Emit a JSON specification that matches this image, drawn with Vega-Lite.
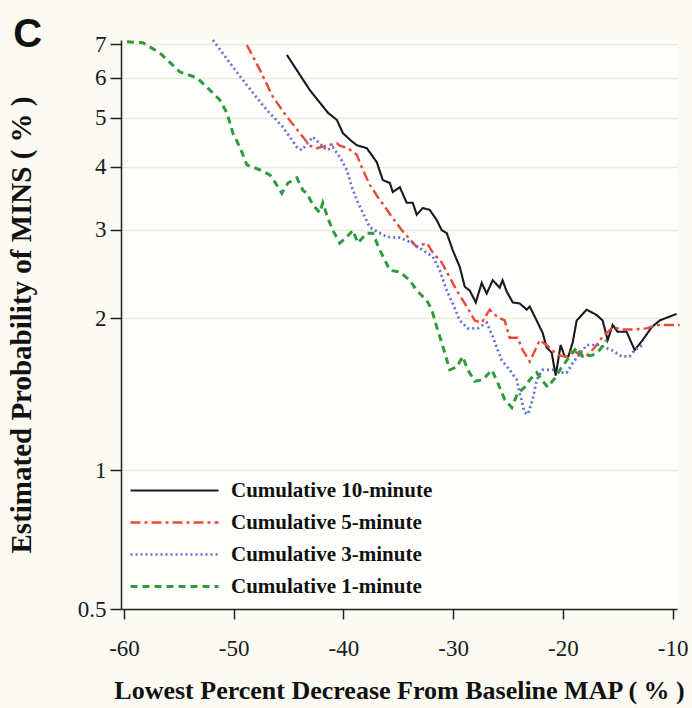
{
  "$schema": "https://vega.github.io/schema/vega-lite/v6.json",
  "width": 556,
  "height": 569,
  "autosize": {"type": "none"},
  "padding": {"left": 121, "top": 40, "right": 15, "bottom": 99},
  "background": "#fbfaf3",
  "title": {"text": "C", "anchor": "start", "frame": "bounds", "font": "Liberation Sans", "fontSize": 40, "fontWeight": "bold", "color": "#111111", "offset": -22, "dx": 6},
  "datasets": {
    "d": [
      {"series": "Cumulative 10-minute", "x": -45.15, "y": 6.66},
      {"series": "Cumulative 10-minute", "x": -43.06, "y": 5.67},
      {"series": "Cumulative 10-minute", "x": -41.4, "y": 5.11},
      {"series": "Cumulative 10-minute", "x": -40.6, "y": 4.95},
      {"series": "Cumulative 10-minute", "x": -40.05, "y": 4.66},
      {"series": "Cumulative 10-minute", "x": -39.3, "y": 4.5},
      {"series": "Cumulative 10-minute", "x": -38.78, "y": 4.41},
      {"series": "Cumulative 10-minute", "x": -37.87, "y": 4.35},
      {"series": "Cumulative 10-minute", "x": -36.96, "y": 4.08},
      {"series": "Cumulative 10-minute", "x": -36.41, "y": 3.76},
      {"series": "Cumulative 10-minute", "x": -35.77, "y": 3.71},
      {"series": "Cumulative 10-minute", "x": -35.5, "y": 3.56},
      {"series": "Cumulative 10-minute", "x": -34.86, "y": 3.64},
      {"series": "Cumulative 10-minute", "x": -34.23, "y": 3.39},
      {"series": "Cumulative 10-minute", "x": -33.68, "y": 3.39},
      {"series": "Cumulative 10-minute", "x": -33.32, "y": 3.21},
      {"series": "Cumulative 10-minute", "x": -32.77, "y": 3.31},
      {"series": "Cumulative 10-minute", "x": -32.13, "y": 3.28},
      {"series": "Cumulative 10-minute", "x": -31.49, "y": 3.13},
      {"series": "Cumulative 10-minute", "x": -31.04, "y": 2.99},
      {"series": "Cumulative 10-minute", "x": -30.58, "y": 2.95},
      {"series": "Cumulative 10-minute", "x": -30.04, "y": 2.73},
      {"series": "Cumulative 10-minute", "x": -29.4, "y": 2.53},
      {"series": "Cumulative 10-minute", "x": -28.94, "y": 2.31},
      {"series": "Cumulative 10-minute", "x": -28.49, "y": 2.27},
      {"series": "Cumulative 10-minute", "x": -27.94, "y": 2.15},
      {"series": "Cumulative 10-minute", "x": -27.4, "y": 2.35},
      {"series": "Cumulative 10-minute", "x": -26.94, "y": 2.24},
      {"series": "Cumulative 10-minute", "x": -26.39, "y": 2.38},
      {"series": "Cumulative 10-minute", "x": -25.76, "y": 2.3},
      {"series": "Cumulative 10-minute", "x": -25.5, "y": 2.38},
      {"series": "Cumulative 10-minute", "x": -25.12, "y": 2.26},
      {"series": "Cumulative 10-minute", "x": -24.57, "y": 2.15},
      {"series": "Cumulative 10-minute", "x": -23.93, "y": 2.14},
      {"series": "Cumulative 10-minute", "x": -23.3, "y": 2.08},
      {"series": "Cumulative 10-minute", "x": -23.02, "y": 2.11},
      {"series": "Cumulative 10-minute", "x": -22.39, "y": 1.98},
      {"series": "Cumulative 10-minute", "x": -21.84, "y": 1.87},
      {"series": "Cumulative 10-minute", "x": -21.48, "y": 1.75},
      {"series": "Cumulative 10-minute", "x": -21.02, "y": 1.71},
      {"series": "Cumulative 10-minute", "x": -20.66, "y": 1.54},
      {"series": "Cumulative 10-minute", "x": -20.2, "y": 1.77},
      {"series": "Cumulative 10-minute", "x": -19.84, "y": 1.68},
      {"series": "Cumulative 10-minute", "x": -19.5, "y": 1.68},
      {"series": "Cumulative 10-minute", "x": -19.11, "y": 1.79},
      {"series": "Cumulative 10-minute", "x": -18.74, "y": 1.98},
      {"series": "Cumulative 10-minute", "x": -17.83, "y": 2.08},
      {"series": "Cumulative 10-minute", "x": -16.92, "y": 2.03},
      {"series": "Cumulative 10-minute", "x": -16.38, "y": 1.98},
      {"series": "Cumulative 10-minute", "x": -15.92, "y": 1.81},
      {"series": "Cumulative 10-minute", "x": -15.46, "y": 1.94},
      {"series": "Cumulative 10-minute", "x": -15.01, "y": 1.88},
      {"series": "Cumulative 10-minute", "x": -14.19, "y": 1.88},
      {"series": "Cumulative 10-minute", "x": -13.46, "y": 1.73},
      {"series": "Cumulative 10-minute", "x": -12.73, "y": 1.81},
      {"series": "Cumulative 10-minute", "x": -11.91, "y": 1.92},
      {"series": "Cumulative 10-minute", "x": -11.18, "y": 1.98},
      {"series": "Cumulative 10-minute", "x": -9.64, "y": 2.04},

      {"series": "Cumulative 5-minute", "x": -48.8, "y": 6.97},
      {"series": "Cumulative 5-minute", "x": -47.61, "y": 6.22},
      {"series": "Cumulative 5-minute", "x": -46.43, "y": 5.5},
      {"series": "Cumulative 5-minute", "x": -45.15, "y": 5.02},
      {"series": "Cumulative 5-minute", "x": -43.97, "y": 4.66},
      {"series": "Cumulative 5-minute", "x": -43.06, "y": 4.4},
      {"series": "Cumulative 5-minute", "x": -42.42, "y": 4.35},
      {"series": "Cumulative 5-minute", "x": -41.51, "y": 4.4},
      {"series": "Cumulative 5-minute", "x": -40.6, "y": 4.45},
      {"series": "Cumulative 5-minute", "x": -40.33, "y": 4.4},
      {"series": "Cumulative 5-minute", "x": -39.6, "y": 4.35},
      {"series": "Cumulative 5-minute", "x": -38.78, "y": 4.22},
      {"series": "Cumulative 5-minute", "x": -38.23, "y": 3.94},
      {"series": "Cumulative 5-minute", "x": -37.6, "y": 3.68},
      {"series": "Cumulative 5-minute", "x": -36.87, "y": 3.48},
      {"series": "Cumulative 5-minute", "x": -36.23, "y": 3.33},
      {"series": "Cumulative 5-minute", "x": -35.59, "y": 3.18},
      {"series": "Cumulative 5-minute", "x": -34.68, "y": 2.99},
      {"series": "Cumulative 5-minute", "x": -33.32, "y": 2.77},
      {"series": "Cumulative 5-minute", "x": -32.4, "y": 2.82},
      {"series": "Cumulative 5-minute", "x": -31.86, "y": 2.7},
      {"series": "Cumulative 5-minute", "x": -31.04, "y": 2.58},
      {"series": "Cumulative 5-minute", "x": -30.31, "y": 2.41},
      {"series": "Cumulative 5-minute", "x": -29.67, "y": 2.27},
      {"series": "Cumulative 5-minute", "x": -28.76, "y": 2.11},
      {"series": "Cumulative 5-minute", "x": -28.03, "y": 1.98},
      {"series": "Cumulative 5-minute", "x": -27.4, "y": 1.96},
      {"series": "Cumulative 5-minute", "x": -26.67, "y": 2.08},
      {"series": "Cumulative 5-minute", "x": -25.94, "y": 2.01},
      {"series": "Cumulative 5-minute", "x": -25.3, "y": 1.98},
      {"series": "Cumulative 5-minute", "x": -24.85, "y": 1.83},
      {"series": "Cumulative 5-minute", "x": -24.12, "y": 1.83},
      {"series": "Cumulative 5-minute", "x": -23.66, "y": 1.73},
      {"series": "Cumulative 5-minute", "x": -23.02, "y": 1.64},
      {"series": "Cumulative 5-minute", "x": -22.11, "y": 1.81},
      {"series": "Cumulative 5-minute", "x": -21.2, "y": 1.75},
      {"series": "Cumulative 5-minute", "x": -20.47, "y": 1.69},
      {"series": "Cumulative 5-minute", "x": -19.65, "y": 1.68},
      {"series": "Cumulative 5-minute", "x": -19.11, "y": 1.73},
      {"series": "Cumulative 5-minute", "x": -18.01, "y": 1.67},
      {"series": "Cumulative 5-minute", "x": -17.1, "y": 1.75},
      {"series": "Cumulative 5-minute", "x": -16.38, "y": 1.84},
      {"series": "Cumulative 5-minute", "x": -15.46, "y": 1.92},
      {"series": "Cumulative 5-minute", "x": -14.64, "y": 1.9},
      {"series": "Cumulative 5-minute", "x": -13.64, "y": 1.9},
      {"series": "Cumulative 5-minute", "x": -12.37, "y": 1.91},
      {"series": "Cumulative 5-minute", "x": -11.46, "y": 1.94},
      {"series": "Cumulative 5-minute", "x": -9.36, "y": 1.94},

      {"series": "Cumulative 3-minute", "x": -51.89, "y": 7.13},
      {"series": "Cumulative 3-minute", "x": -50.07, "y": 6.3},
      {"series": "Cumulative 3-minute", "x": -48.25, "y": 5.6},
      {"series": "Cumulative 3-minute", "x": -46.98, "y": 5.18},
      {"series": "Cumulative 3-minute", "x": -45.52, "y": 4.79},
      {"series": "Cumulative 3-minute", "x": -44.24, "y": 4.37},
      {"series": "Cumulative 3-minute", "x": -43.79, "y": 4.31},
      {"series": "Cumulative 3-minute", "x": -42.79, "y": 4.58},
      {"series": "Cumulative 3-minute", "x": -41.51, "y": 4.31},
      {"series": "Cumulative 3-minute", "x": -40.97, "y": 4.37},
      {"series": "Cumulative 3-minute", "x": -40.33, "y": 4.18},
      {"series": "Cumulative 3-minute", "x": -39.69, "y": 3.94},
      {"series": "Cumulative 3-minute", "x": -39.23, "y": 3.64},
      {"series": "Cumulative 3-minute", "x": -38.78, "y": 3.43},
      {"series": "Cumulative 3-minute", "x": -38.23, "y": 3.24},
      {"series": "Cumulative 3-minute", "x": -37.6, "y": 3.03},
      {"series": "Cumulative 3-minute", "x": -37.14, "y": 2.99},
      {"series": "Cumulative 3-minute", "x": -36.05, "y": 2.9},
      {"series": "Cumulative 3-minute", "x": -34.86, "y": 2.89},
      {"series": "Cumulative 3-minute", "x": -33.68, "y": 2.82},
      {"series": "Cumulative 3-minute", "x": -32.77, "y": 2.73},
      {"series": "Cumulative 3-minute", "x": -31.86, "y": 2.65},
      {"series": "Cumulative 3-minute", "x": -31.22, "y": 2.49},
      {"series": "Cumulative 3-minute", "x": -30.58, "y": 2.27},
      {"series": "Cumulative 3-minute", "x": -30.04, "y": 2.14},
      {"series": "Cumulative 3-minute", "x": -29.4, "y": 1.98},
      {"series": "Cumulative 3-minute", "x": -28.67, "y": 1.91},
      {"series": "Cumulative 3-minute", "x": -27.76, "y": 1.91},
      {"series": "Cumulative 3-minute", "x": -26.94, "y": 1.96},
      {"series": "Cumulative 3-minute", "x": -26.39, "y": 1.84},
      {"series": "Cumulative 3-minute", "x": -25.94, "y": 1.73},
      {"series": "Cumulative 3-minute", "x": -25.57, "y": 1.65},
      {"series": "Cumulative 3-minute", "x": -24.85, "y": 1.58},
      {"series": "Cumulative 3-minute", "x": -24.21, "y": 1.51},
      {"series": "Cumulative 3-minute", "x": -23.93, "y": 1.42},
      {"series": "Cumulative 3-minute", "x": -23.48, "y": 1.3},
      {"series": "Cumulative 3-minute", "x": -23.2, "y": 1.29},
      {"series": "Cumulative 3-minute", "x": -22.75, "y": 1.38},
      {"series": "Cumulative 3-minute", "x": -22.39, "y": 1.51},
      {"series": "Cumulative 3-minute", "x": -21.84, "y": 1.58},
      {"series": "Cumulative 3-minute", "x": -20.93, "y": 1.58},
      {"series": "Cumulative 3-minute", "x": -20.29, "y": 1.56},
      {"series": "Cumulative 3-minute", "x": -19.65, "y": 1.56},
      {"series": "Cumulative 3-minute", "x": -19.11, "y": 1.63},
      {"series": "Cumulative 3-minute", "x": -17.83, "y": 1.77},
      {"series": "Cumulative 3-minute", "x": -16.65, "y": 1.77},
      {"series": "Cumulative 3-minute", "x": -15.56, "y": 1.73},
      {"series": "Cumulative 3-minute", "x": -14.64, "y": 1.68},
      {"series": "Cumulative 3-minute", "x": -13.92, "y": 1.68},
      {"series": "Cumulative 3-minute", "x": -13.46, "y": 1.73},
      {"series": "Cumulative 3-minute", "x": -12.73, "y": 1.77},

      {"series": "Cumulative 1-minute", "x": -59.73, "y": 7.07},
      {"series": "Cumulative 1-minute", "x": -58.27, "y": 7.04},
      {"series": "Cumulative 1-minute", "x": -56.72, "y": 6.72},
      {"series": "Cumulative 1-minute", "x": -54.9, "y": 6.16},
      {"series": "Cumulative 1-minute", "x": -53.35, "y": 6.0},
      {"series": "Cumulative 1-minute", "x": -52.44, "y": 5.75},
      {"series": "Cumulative 1-minute", "x": -51.26, "y": 5.42},
      {"series": "Cumulative 1-minute", "x": -50.62, "y": 5.11},
      {"series": "Cumulative 1-minute", "x": -50.07, "y": 4.66},
      {"series": "Cumulative 1-minute", "x": -49.44, "y": 4.37},
      {"series": "Cumulative 1-minute", "x": -48.8, "y": 4.03},
      {"series": "Cumulative 1-minute", "x": -47.61, "y": 3.94},
      {"series": "Cumulative 1-minute", "x": -46.7, "y": 3.85},
      {"series": "Cumulative 1-minute", "x": -46.43, "y": 3.78},
      {"series": "Cumulative 1-minute", "x": -45.61, "y": 3.54},
      {"series": "Cumulative 1-minute", "x": -45.06, "y": 3.71},
      {"series": "Cumulative 1-minute", "x": -44.24, "y": 3.8},
      {"series": "Cumulative 1-minute", "x": -43.7, "y": 3.59},
      {"series": "Cumulative 1-minute", "x": -43.33, "y": 3.54},
      {"series": "Cumulative 1-minute", "x": -42.79, "y": 3.36},
      {"series": "Cumulative 1-minute", "x": -42.15, "y": 3.24},
      {"series": "Cumulative 1-minute", "x": -41.88, "y": 3.39},
      {"series": "Cumulative 1-minute", "x": -41.42, "y": 3.16},
      {"series": "Cumulative 1-minute", "x": -40.97, "y": 2.99},
      {"series": "Cumulative 1-minute", "x": -40.33, "y": 2.82},
      {"series": "Cumulative 1-minute", "x": -39.69, "y": 2.9},
      {"series": "Cumulative 1-minute", "x": -39.14, "y": 2.99},
      {"series": "Cumulative 1-minute", "x": -38.69, "y": 2.82},
      {"series": "Cumulative 1-minute", "x": -37.87, "y": 2.95},
      {"series": "Cumulative 1-minute", "x": -37.32, "y": 2.95},
      {"series": "Cumulative 1-minute", "x": -36.68, "y": 2.73},
      {"series": "Cumulative 1-minute", "x": -36.23, "y": 2.61},
      {"series": "Cumulative 1-minute", "x": -35.77, "y": 2.49},
      {"series": "Cumulative 1-minute", "x": -34.86, "y": 2.47},
      {"series": "Cumulative 1-minute", "x": -33.95, "y": 2.38},
      {"series": "Cumulative 1-minute", "x": -33.32, "y": 2.27},
      {"series": "Cumulative 1-minute", "x": -32.4, "y": 2.17},
      {"series": "Cumulative 1-minute", "x": -31.95, "y": 2.08},
      {"series": "Cumulative 1-minute", "x": -31.49, "y": 1.92},
      {"series": "Cumulative 1-minute", "x": -31.04, "y": 1.79},
      {"series": "Cumulative 1-minute", "x": -30.31, "y": 1.58},
      {"series": "Cumulative 1-minute", "x": -29.67, "y": 1.6},
      {"series": "Cumulative 1-minute", "x": -29.13, "y": 1.68},
      {"series": "Cumulative 1-minute", "x": -28.67, "y": 1.58},
      {"series": "Cumulative 1-minute", "x": -28.03, "y": 1.5},
      {"series": "Cumulative 1-minute", "x": -27.3, "y": 1.51},
      {"series": "Cumulative 1-minute", "x": -26.48, "y": 1.58},
      {"series": "Cumulative 1-minute", "x": -25.94, "y": 1.49},
      {"series": "Cumulative 1-minute", "x": -25.3, "y": 1.38},
      {"series": "Cumulative 1-minute", "x": -24.66, "y": 1.33},
      {"series": "Cumulative 1-minute", "x": -24.12, "y": 1.42},
      {"series": "Cumulative 1-minute", "x": -23.48, "y": 1.46},
      {"series": "Cumulative 1-minute", "x": -23.02, "y": 1.51},
      {"series": "Cumulative 1-minute", "x": -22.39, "y": 1.56},
      {"series": "Cumulative 1-minute", "x": -21.93, "y": 1.51},
      {"series": "Cumulative 1-minute", "x": -21.38, "y": 1.46},
      {"series": "Cumulative 1-minute", "x": -20.75, "y": 1.52},
      {"series": "Cumulative 1-minute", "x": -20.11, "y": 1.6},
      {"series": "Cumulative 1-minute", "x": -19.38, "y": 1.68},
      {"series": "Cumulative 1-minute", "x": -18.74, "y": 1.75},
      {"series": "Cumulative 1-minute", "x": -18.2, "y": 1.68},
      {"series": "Cumulative 1-minute", "x": -17.29, "y": 1.69},
      {"series": "Cumulative 1-minute", "x": -16.65, "y": 1.73},
      {"series": "Cumulative 1-minute", "x": -16.01, "y": 1.81}
    ]
  },
  "data": {"name": "d"},
  "mark": {"type": "line", "interpolate": "linear"},
  "encoding": {
    "x": {
      "field": "x", "type": "quantitative",
      "scale": {"domain": [-60.27, -9.6], "nice": false, "zero": false},
      "axis": {
        "values": [-60, -50, -40, -30, -20, -10],
        "labelExpr": "'' + datum.value",
        "title": "Lowest Percent Decrease From Baseline MAP ( % )",
        "titleFontSize": 26,
        "grid": false, "tickSize": 10, "labelPadding": 18, "titlePadding": 17
      }
    },
    "y": {
      "field": "y", "type": "quantitative",
      "scale": {"type": "log", "domain": [0.53, 7.13], "nice": false},
      "axis": {
        "values": [0.53, 1, 2, 3, 4, 5, 6, 7],
        "format": "~g",
        "labelExpr": "datum.value < 0.9 ? '0.5' : datum.label",
        "title": "Estimated Probability of MINS ( % )",
        "titleFontSize": 29,
        "grid": true, "gridColor": "#ecebd9", "gridWidth": 1.5,
        "tickSize": 11, "labelPadding": 4, "titlePadding": 41
      }
    },
    "color": {
      "field": "series", "type": "nominal",
      "scale": {
        "domain": ["Cumulative 10-minute", "Cumulative 5-minute", "Cumulative 3-minute", "Cumulative 1-minute"],
        "range": ["#1a1a1a", "#ea4a3c", "#5c70d8", "#2f9a3e"]
      },
      "legend": {"title": null}
    },
    "strokeDash": {
      "field": "series", "type": "nominal",
      "scale": {
        "domain": ["Cumulative 10-minute", "Cumulative 5-minute", "Cumulative 3-minute", "Cumulative 1-minute"],
        "range": [[1, 0], [10, 4, 3, 4], [2, 3], [7, 5]]
      },
      "legend": {"title": null}
    },
    "strokeWidth": {
      "field": "series", "type": "nominal",
      "scale": {
        "domain": ["Cumulative 10-minute", "Cumulative 5-minute", "Cumulative 3-minute", "Cumulative 1-minute"],
        "range": [2.1, 3, 2, 2.5]
      },
      "legend": {"title": null}
    }
  },
  "config": {
    "view": {"fill": "#fffffd", "stroke": null},
    "axis": {
      "labelFont": "Liberation Serif", "labelFontSize": 23, "labelColor": "#1a1a1a",
      "titleFont": "Liberation Serif", "titleFontSize": 26, "titleFontWeight": "bold", "titleColor": "#111111",
      "domainColor": "#222222", "tickColor": "#222222", "domainWidth": 1.5, "tickWidth": 1.5
    },
    "legend": {
      "orient": "bottom-left", "offset": 8, "padding": 0,
      "symbolType": "stroke", "symbolSize": 7744, "clipHeight": 29, "rowPadding": 3,
      "labelOffset": 11, "labelFont": "Liberation Serif", "labelFontSize": 21, "labelFontWeight": "bold", "labelColor": "#111111",
      "labelLimit": 400
    }
  }
}
